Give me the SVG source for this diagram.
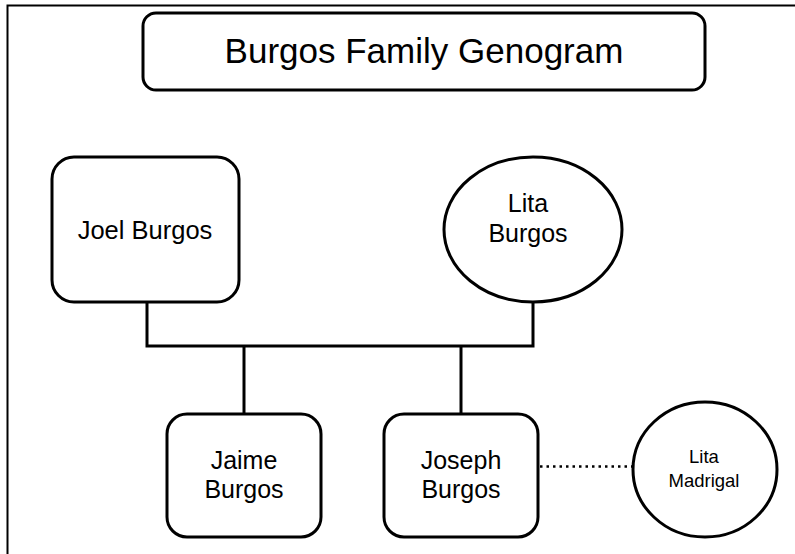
<svg xmlns="http://www.w3.org/2000/svg" width="795" height="554" viewBox="0 0 795 554">
  <style>
    .shape { fill: #ffffff; stroke: #000000; stroke-width: 3; }
    .label { font-family: "Liberation Sans", Arial, sans-serif; fill: #000000; text-anchor: middle; }
    .link { fill: none; stroke: #000000; stroke-width: 3; }
    .partner { fill: none; stroke: #000000; stroke-width: 2.5; stroke-dasharray: 2.5 4; }
  </style>
  <rect x="0" y="0" width="795" height="554" fill="#ffffff"/>
  <!-- page frame, open toward the right and bottom edges -->
  <path d="M7.5 560 V5.5 H800" fill="none" stroke="#000000" stroke-width="2"/>

  <g id="title">
    <rect class="shape" x="143" y="13" width="562" height="77" rx="13"/>
    <text class="label" x="424" y="63" font-size="35">Burgos Family Genogram</text>
  </g>

  <g id="connectors">
    <!-- marriage line with drops to the children -->
    <polyline class="link" points="147,302 147,346 533,346 533,302"/>
    <line class="link" x1="244" y1="346" x2="244" y2="414"/>
    <line class="link" x1="461" y1="346" x2="461" y2="414"/>
    <!-- partner link -->
    <line class="partner" x1="540" y1="466.5" x2="633" y2="466.5"/>
  </g>

  <g id="joel-burgos">
    <rect class="shape" x="52" y="157" width="187" height="145" rx="22"/>
    <text class="label" x="145" y="239" font-size="25.5">Joel Burgos</text>
  </g>

  <g id="lita-burgos">
    <ellipse class="shape" cx="533" cy="229.5" rx="89" ry="72.5"/>
    <text class="label" x="528" y="212" font-size="25">Lita</text>
    <text class="label" x="528" y="242" font-size="25">Burgos</text>
  </g>

  <g id="jaime-burgos">
    <rect class="shape" x="167" y="414" width="154" height="123" rx="20"/>
    <text class="label" x="244" y="469" font-size="25">Jaime</text>
    <text class="label" x="244" y="498" font-size="25">Burgos</text>
  </g>

  <g id="joseph-burgos">
    <rect class="shape" x="384" y="414" width="154" height="123" rx="20"/>
    <text class="label" x="461" y="469" font-size="25">Joseph</text>
    <text class="label" x="461" y="498" font-size="25">Burgos</text>
  </g>

  <g id="lita-madrigal">
    <ellipse class="shape" cx="705" cy="469.5" rx="72" ry="67.5"/>
    <text class="label" x="704" y="463" font-size="18.5">Lita</text>
    <text class="label" x="704" y="487" font-size="18.5">Madrigal</text>
  </g>
</svg>
